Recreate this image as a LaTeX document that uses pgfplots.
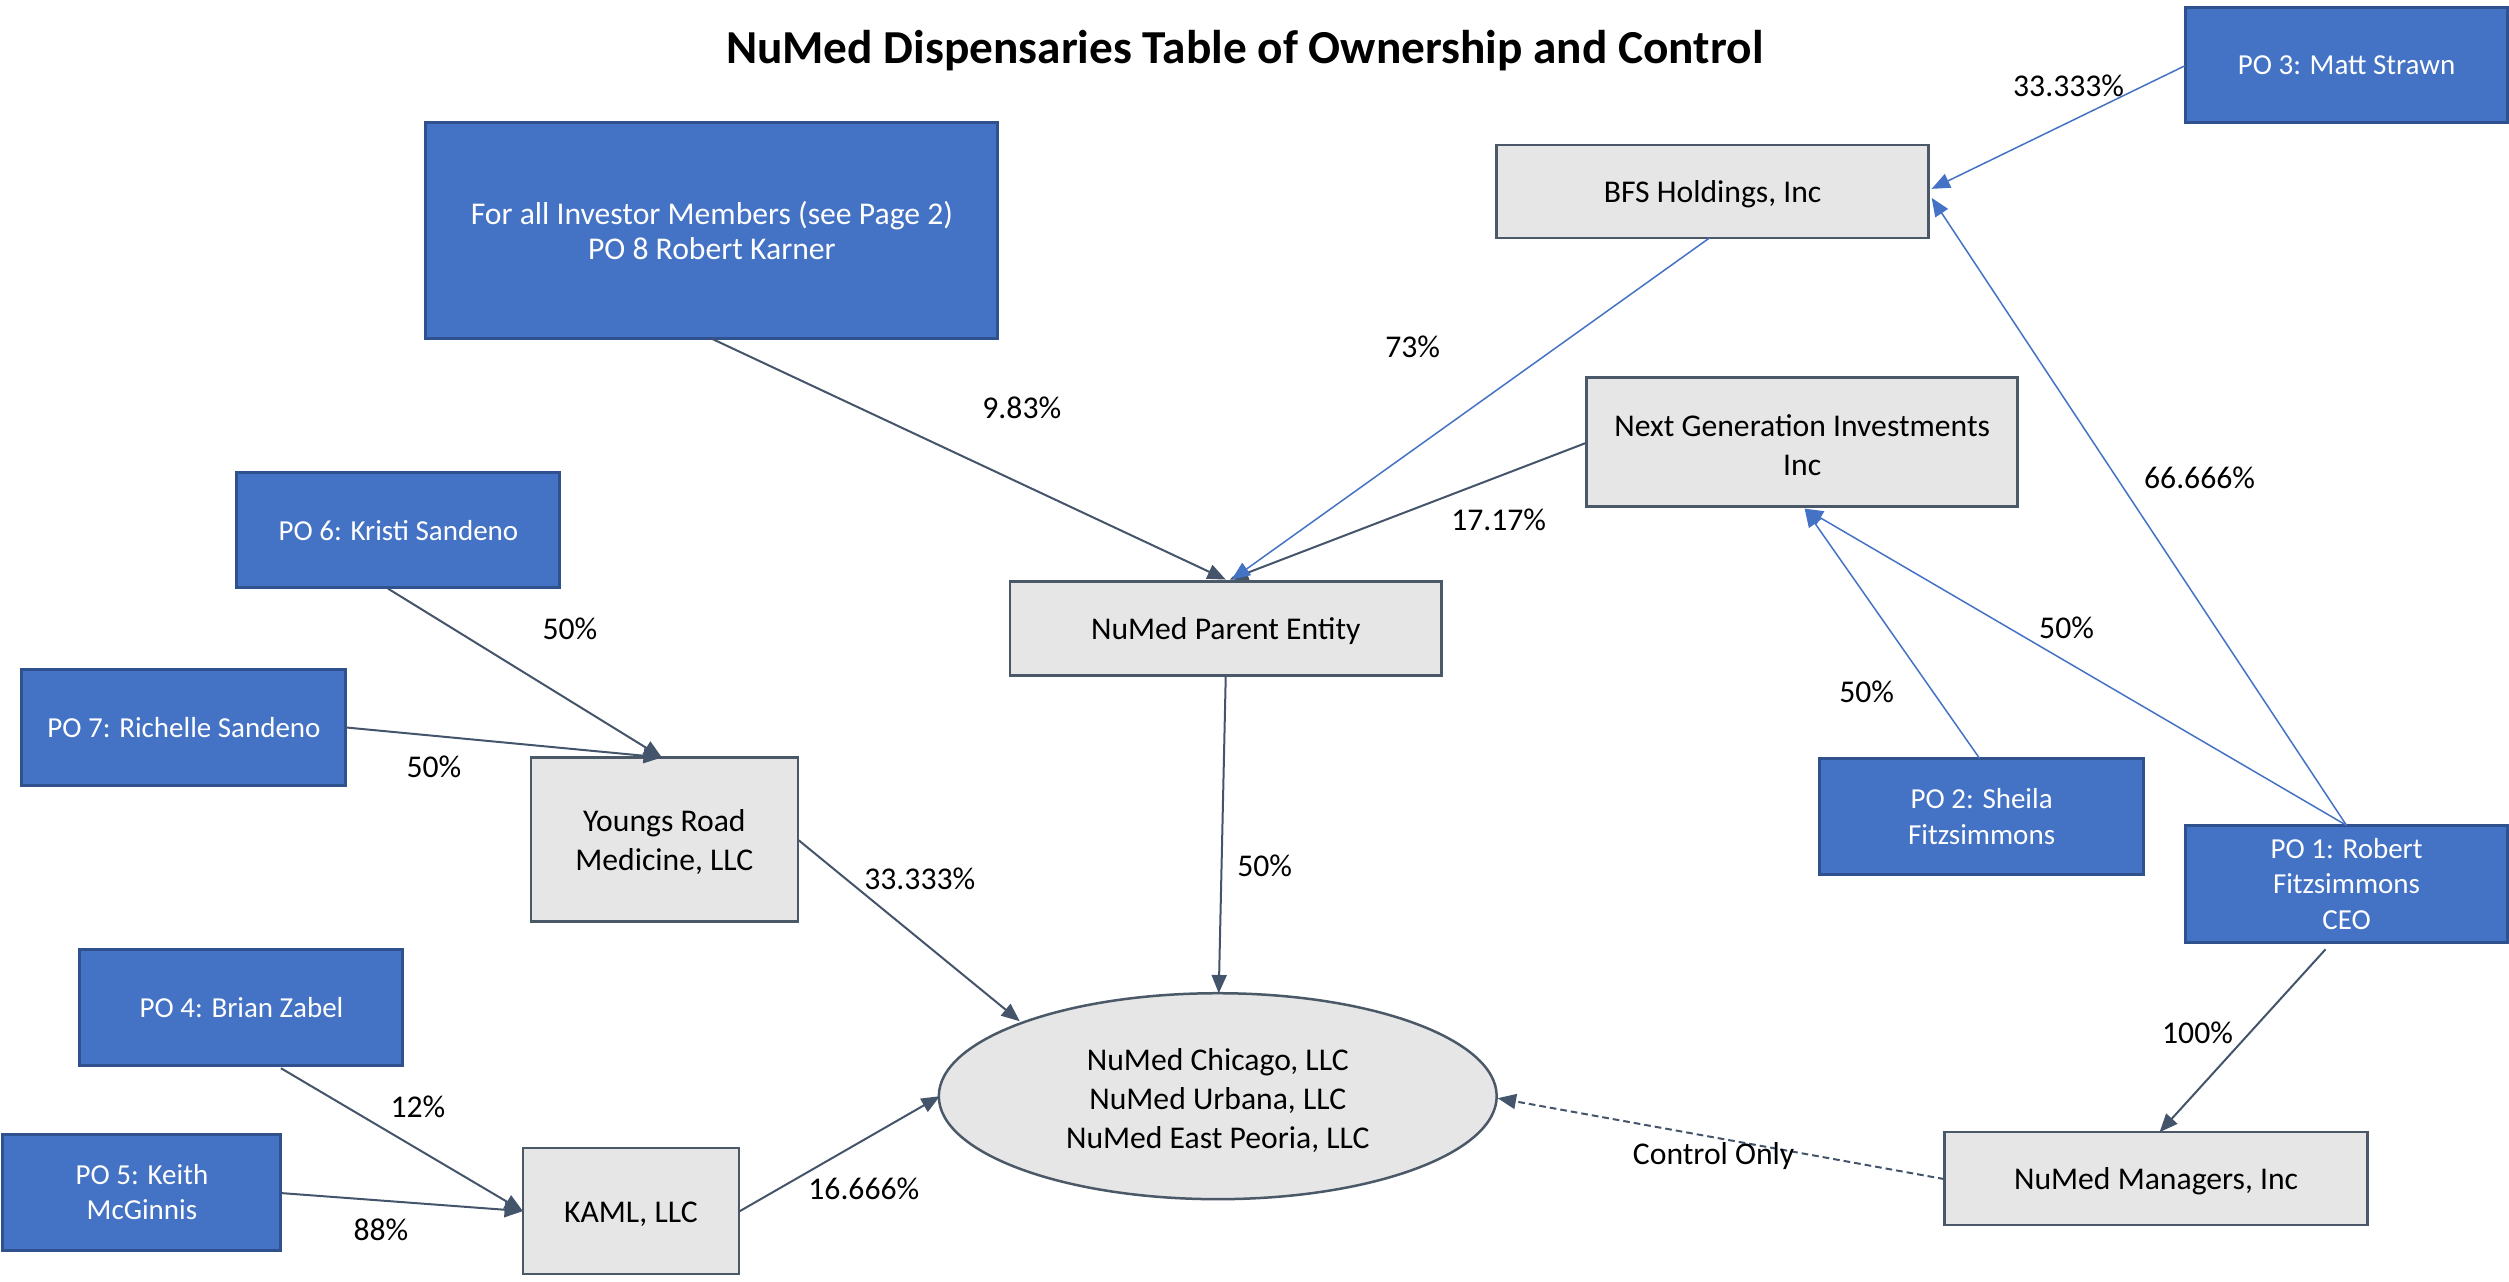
\documentclass[border=0pt]{standalone}
\usepackage{pgfplots}
\pgfplotsset{compat=1.18}
\usepackage{fontspec}
\setmainfont{Carlito}
\usetikzlibrary{arrows.meta,calc}
\definecolor{bfill}{HTML}{4472C4}
\definecolor{bdraw}{HTML}{2F528F}
\definecolor{gfill}{HTML}{E7E6E6}
\definecolor{gdraw}{HTML}{4A5868}
\definecolor{dline}{HTML}{44546A}
\definecolor{bline}{HTML}{4472C4}
\newcommand{\bbox}[5]{%
  \draw[fill=bfill,draw=bdraw,line width=0.9pt] (axis cs:#1,#2) rectangle (axis cs:#3,#4);
  \node[text=white,align=center,font=\fontsize{8.7}{10.6}\selectfont,inner sep=0pt] at ($(axis cs:#1,#2)!0.5!(axis cs:#3,#4)$) {#5};}
\newcommand{\gbox}[5]{%
  \draw[fill=gfill,draw=gdraw,line width=0.75pt] (axis cs:#1,#2) rectangle (axis cs:#3,#4);
  \node[text=black,align=center,font=\fontsize{9.5}{11.8}\selectfont,inner sep=0pt,yshift=-0.8pt] at ($(axis cs:#1,#2)!0.5!(axis cs:#3,#4)$) {#5};}
\newcommand{\lab}[3]{\node[font=\fontsize{9.5}{11.5}\selectfont,inner sep=0pt] at (axis cs:#1,#2) {#3};}
\begin{document}
\begin{tikzpicture}
\begin{axis}[width=752.7pt, height=384.4pt, scale only axis,
  xmin=0,xmax=2509,ymin=0,ymax=1282, y dir=reverse,
  hide axis, clip=false]
\path (axis cs:0,0) rectangle (axis cs:2509,1282);
\node[font=\fontsize{14.2}{16}\selectfont\bfseries] at (axis cs:1245,51) {NuMed Dispensaries Table of Ownership and Control};
% boxes
\bbox{426}{123}{998}{339}{\fontsize{9.5}{12}\selectfont For all Investor Members (see Page 2)\\\fontsize{9.5}{12}\selectfont PO 8 Robert Karner}
\gbox{1497}{145}{1929}{238}{BFS Holdings, Inc}
\bbox{2186}{8}{2508}{123}{PO 3: Matt Strawn}
\gbox{1587}{378}{2018}{507}{Next Generation Investments\\Inc}
\bbox{237}{473}{560}{588}{PO 6: Kristi Sandeno}
\bbox{22}{670}{346}{786}{PO 7: Richelle Sandeno}
\gbox{531}{758}{798}{922}{Youngs Road\\Medicine, LLC}
\gbox{1010}{582}{1442}{676}{NuMed Parent Entity}
\bbox{1820}{759}{2144}{875}{PO 2: Sheila\\Fitzsimmons}
\bbox{2186}{826}{2508}{943}{PO 1: Robert\\Fitzsimmons\\CEO}
\bbox{80}{950}{403}{1066}{PO 4: Brian Zabel}
\bbox{3}{1135}{281}{1251}{PO 5: Keith\\McGinnis}
\gbox{523}{1149}{739}{1275}{KAML, LLC}
\gbox{1945}{1133}{2368}{1226}{NuMed Managers, Inc}
\draw[fill=gfill,draw=gdraw,line width=0.75pt] (axis cs:1218,1097) ellipse [x radius=83.7pt, y radius=30.9pt];
\node[align=center,font=\fontsize{9.5}{11.7}\selectfont,inner sep=0pt] at (axis cs:1218,1101) {NuMed Chicago, LLC\\NuMed Urbana, LLC\\NuMed East Peoria, LLC};
% dark arrows
\begin{scope}[dline, line width=0.6pt, -{Triangle[length=5.5pt,width=4.5pt]}]
\draw (axis cs:712,339) -- (axis cs:1226,580);
\draw (axis cs:1587,443) -- (axis cs:1230,580);
\draw (axis cs:1226,676) -- (axis cs:1219,994);
\draw (axis cs:388,589) -- (axis cs:662,758);
\draw (axis cs:346,728) -- (axis cs:662,758);
\draw (axis cs:799,841) -- (axis cs:1020,1022);
\draw (axis cs:281,1069) -- (axis cs:523,1212);
\draw (axis cs:282,1194) -- (axis cs:523,1212);
\draw (axis cs:740,1212) -- (axis cs:940,1097);
\draw (axis cs:2326,950) -- (axis cs:2160,1133);
\draw[dash pattern=on 2pt off 1.2pt] (axis cs:1945,1180) -- (axis cs:1498,1099);
\end{scope}
% blue arrows
\begin{scope}[bline, line width=0.45pt, -{Triangle[length=5.5pt,width=4.5pt]}]
\draw (axis cs:1710,238) -- (axis cs:1232,580);
\draw (axis cs:2185,66) -- (axis cs:1932,189);
\draw (axis cs:2347,826) -- (axis cs:1932,198);
\draw (axis cs:2347,826) -- (axis cs:1805,509);
\draw (axis cs:1980,759) -- (axis cs:1805,509);
\end{scope}
% labels
\lab{1022}{408}{9.83\%}
\lab{1413}{347}{73\%}
\lab{1499}{520}{17.17\%}
\lab{2069}{86}{33.333\%}
\lab{2200}{478}{66.666\%}
\lab{2067}{628}{50\%}
\lab{1867}{692}{50\%}
\lab{570}{629}{50\%}
\lab{434}{767}{50\%}
\lab{920}{879}{33.333\%}
\lab{1265}{866}{50\%}
\lab{418}{1108}{12\%}
\lab{381}{1231}{88\%}
\lab{864}{1190}{16.666\%}
\lab{2198}{1034}{100\%}
\lab{1714}{1157}{Control Only}
\end{axis}
\end{tikzpicture}
\end{document}
